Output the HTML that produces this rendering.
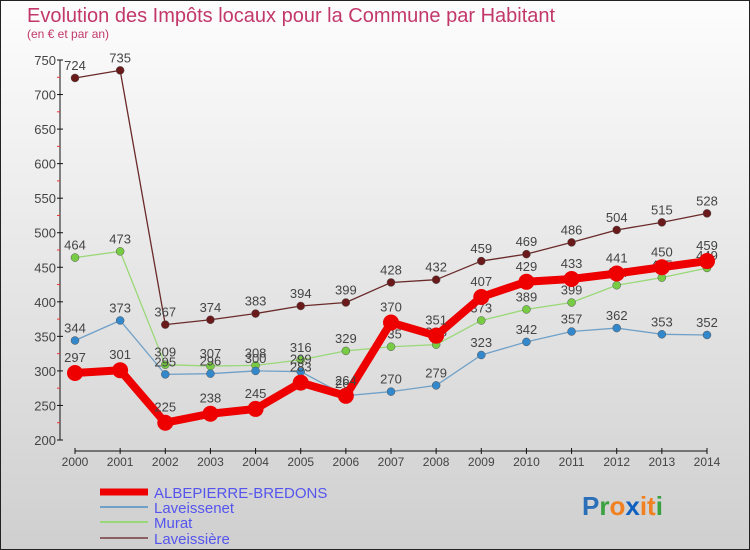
<!DOCTYPE html>
<html><head><meta charset="utf-8"><style>
body{margin:0}
#c{width:750px;height:550px;position:relative;overflow:hidden;font-family:"Liberation Sans",sans-serif}
svg text{font-family:"Liberation Sans",sans-serif}
</style></head><body>
<div id="c">
<svg id="s" width="750" height="550">
<defs><linearGradient id="bg" x1="0" y1="0" x2="0" y2="1"><stop offset="0" stop-color="#fdfdfd"/><stop offset="1" stop-color="#cfcfcf"/></linearGradient></defs>
<rect x="0.5" y="0.5" width="749" height="549" fill="url(#bg)" stroke="#222"/>
<text x="27" y="22" font-size="20" fill="#c2386a">Evolution des Impôts locaux pour la Commune par Habitant</text>
<text x="27" y="38" font-size="12" fill="#c2386a">(en € et par an)</text>
<g id="axes"></g><g id="series"></g>
<g>
<line x1="100" y1="492" x2="148" y2="492" stroke="#e00" stroke-width="7"/>
<text x="154" y="498" font-size="15" fill="#5555ee">ALBEPIERRE-BREDONS</text>
<line x1="100" y1="507" x2="148" y2="507" stroke="#6fa0c8" stroke-width="2"/>
<text x="154" y="513" font-size="15" fill="#5555ee">Laveissenet</text>
<line x1="100" y1="522" x2="148" y2="522" stroke="#99d877" stroke-width="2"/>
<text x="154" y="528" font-size="15" fill="#5555ee">Murat</text>
<line x1="100" y1="538" x2="148" y2="538" stroke="#8a6060" stroke-width="2"/>
<text x="154" y="544" font-size="15" fill="#5555ee">Laveissière</text>
</g>
<text x="582" y="515" font-size="26" font-weight="bold"><tspan fill="#2a6fb8">P</tspan><tspan fill="#3aa040">r</tspan><tspan fill="#f08020">o</tspan><tspan fill="#1060c0">x</tspan><tspan fill="#f08020">it</tspan><tspan fill="#3aa040">i</tspan></text>
</svg>
</div>
<script>
const years=[2000,2001,2002,2003,2004,2005,2006,2007,2008,2009,2010,2011,2012,2013,2014];
const albepierre=[297,301,225,238,245,283,264,370,351,407,429,433,441,450,459];
const laveissenet=[344,373,295,296,300,299,264,270,279,323,342,357,362,353,352];
const murat=[464,473,309,307,308,316,329,335,338,373,389,399,424,435,449];
const laveissiere=[724,735,367,374,383,394,399,428,432,459,469,486,504,515,528];
const yTicks=[200,250,300,350,400,450,500,550,600,650,700,750];
const NS="http://www.w3.org/2000/svg";
const x=i=>75+i*(707-75)/(years.length-1);
const y=v=>440-(v-200)*(380/550);
function mk(t,a,p){const e=document.createElementNS(NS,t);for(const k in a)e.setAttribute(k,a[k]);p.appendChild(e);return e;}
const ax=document.getElementById('axes');
let l=mk('line',{x1:60,y1:60,x2:60,y2:440,stroke:'#111'},ax);


l=mk('line',{x1:75,y1:451,x2:707,y2:451,stroke:'#111'},ax);


yTicks.forEach(v=>{
  let t=mk('line',{x1:57,y1:y(v),x2:63,y2:y(v),stroke:'#111'},ax);
  
  
  if(v<750){let m=mk('line',{x1:57,y1:y(v+25),x2:60,y2:y(v+25),stroke:'#e33'},ax);
  
  }
  let tx=mk('text',{x:56,y:y(v)+5,'text-anchor':'end','font-size':13,fill:'#444'},ax);tx.textContent=v;
  
  
});
years.forEach((yr,i)=>{
  let t=mk('line',{x1:x(i),y1:448,x2:x(i),y2:454,stroke:'#111'},ax);
  
  
  let tx=mk('text',{x:x(i),y:466,'text-anchor':'middle','font-size':12,fill:'#444'},ax);tx.textContent=yr;
  
  
});
const sg=document.getElementById('series');
function draw(data,name,color,dot,w,r){
  const g=mk('g',{},sg);
  
  
  const p=mk('polyline',{points:data.map((v,i)=>x(i)+','+y(v)).join(' '),fill:'none',stroke:color,'stroke-width':w,'stroke-linejoin':'round'},g);
  
  
  data.forEach((v,i)=>{
    const c=mk('circle',{cx:x(i),cy:y(v),r:r,fill:dot,stroke:w>3?'none':'#555','stroke-width':0.5},g);
    
    
    const t=mk('text',{x:x(i),y:y(v)-8-(w>3?3:0),'text-anchor':'middle','font-size':13,fill:'#444'},g);t.textContent=v;
    
    
  });
}
draw(laveissiere,'laveissiere','#6a2a2a','#6a1a1a',1.3,4);
draw(murat,'murat','#99d877','#77cc44',1.3,4);
draw(laveissenet,'laveissenet','#6fa0c8','#3388cc',1.3,4);
draw(albepierre,'albepierre','#ee0000','#ee0000',8,8);
</script>
</body></html>
